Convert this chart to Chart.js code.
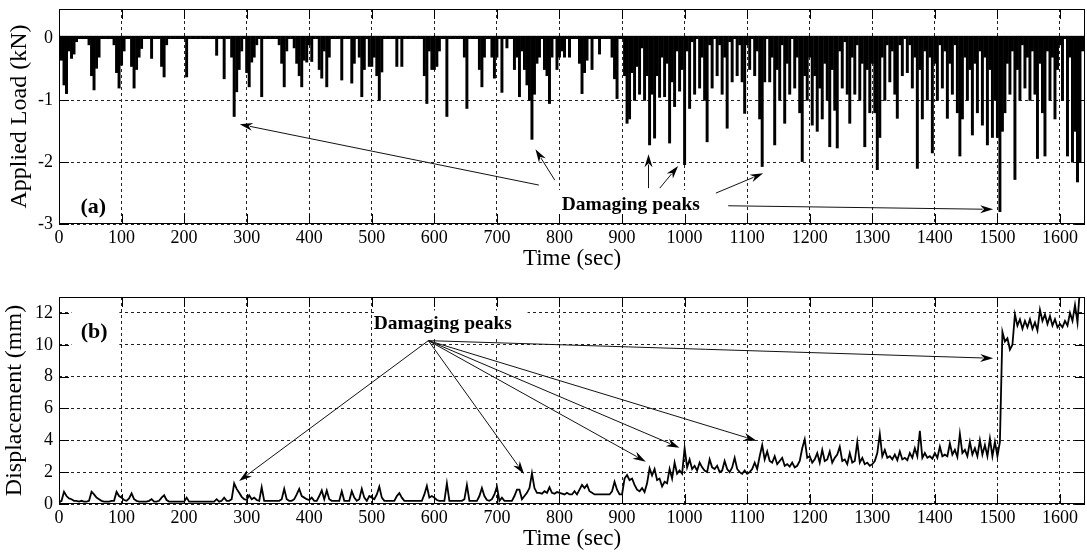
<!DOCTYPE html>
<html lang="en">
<head>
<meta charset="UTF-8">
<title>Applied load and displacement vs time</title>
<script src="https://cdn.jsdelivr.net/npm/chart.js"></script>
<style>
  html, body { margin: 0; padding: 0; background: #fff; }
  #wrap { width: 1087px; height: 552px; overflow: hidden; }
  canvas { display: block; }
</style>
</head>
<body>
<div id="wrap">
  <canvas id="loadChart" width="1087" height="272"></canvas>
  <canvas id="dispChart" width="1087" height="280"></canvas>
</div>
<script>
// samples every 4 s (0 .. 1640 s)
const SAMPLE_STEP = 4;

// applied load (kN), deepest value in each 4 s slot
const loadKN = [
  0, -0.35, -0.75, -0.89, -0.2, -0.32, -0.25, -0.05, 0, 0, 0, 0, -0.1, -0.6, -0.83, -0.48, -0.3, 0, 0, 0, 0, 0, -0.1, -0.55, -0.8,
  -0.43, -0.2, 0, 0, -0.45, -0.8, -0.5, -0.3, -0.16, 0, 0, 0, -0.32, 0, 0, 0, -0.45, -0.62, -0.1, 0, 0, 0, 0, 0, 0,
  0, -0.62, 0, 0, 0, 0, 0, 0, 0, 0, 0, 0, 0, -0.27, 0, 0, -0.65, 0, 0, -0.3, -1.26, -0.86, -0.5, -0.2, 0,
  -0.55, -0.78, -0.38, -0.3, -0.1, 0, -0.94, 0, 0, 0, 0, 0, 0, -0.1, -0.4, -0.78, -0.2, 0, 0, -0.15, -0.4, -0.6, -0.78, -0.35, -0.38,
  -0.1, -0.37, 0, 0, -0.5, -0.64, -0.2, -0.78, -0.3, 0, 0, 0, 0, -0.67, 0, 0, 0, -0.72, -0.4, 0, -0.3, -0.94, -0.5, 0, -0.45,
  -0.45, -0.3, -0.6, -1.0, -0.54, 0, 0, 0, 0, 0, -0.45, 0, -0.45, 0, 0, 0, 0, 0, 0, 0, 0, -0.6, -1.05, -0.2, -0.5,
  -0.5, -0.45, -0.2, 0, 0, -1.26, 0, 0, 0, 0, 0, 0, -0.3, -1.13, 0, 0, 0, 0, -0.5, -0.78, -0.3, 0, 0, -0.3, -0.64,
  -0.3, 0, -0.87, 0, -0.15, 0, 0, -0.5, -0.3, -0.94, -0.2, -0.5, -0.75, -1.0, -1.63, -0.9, -0.4, -0.3, 0, -0.5, -0.6, -1.05, -0.3, 0, -0.5,
  -0.3, -0.2, -0.3, 0, -0.3, 0, 0, 0, -0.4, -0.89, -0.55, -0.35, 0, -0.5, 0, 0, -0.25, 0, 0, 0, 0, -0.3, -0.65, -0.97, 0,
  0, -0.6, -1.37, -1.3, -0.55, -1.0, -0.45, -0.9, -0.15, -1.0, -0.6, -1.72, -0.9, -1.61, -0.6, -0.95, -0.3, -0.94, -0.4, -1.69, -0.7, -1.1, -0.2, -0.85, -0.5,
  -2.04, -0.2, -1.13, -0.05, -0.9, 0, -0.8, -0.3, -1.0, -1.67, -0.1, -0.8, 0, -0.6, -0.1, -0.9, -0.3, -1.45, -0.05, -0.7, 0, -0.6, -0.1, -0.7, -1.21,
  -0.1, -0.5, 0, -0.6, -0.2, -1.3, -2.07, -0.7, 0, -0.7, -0.3, -1.72, -0.5, -1.0, -0.1, -1.37, -0.4, -0.9, 0, -0.8, -0.3, -1.2, -1.99, -0.6, -1.0,
  -0.3, -1.4, -0.6, -1.5, -0.8, -1.3, -0.4, -1.0, -1.75, -0.5, -1.16, -1.77, -0.2, -0.8, -0.05, -0.9, -1.37, -0.3, -0.9, -0.1, -1.0, -0.4, -1.75, -0.5, -1.2,
  -0.4, -1.2, -2.12, -1.6, -0.3, -1.0, -0.1, -0.7, -0.2, -0.9, -1.29, -0.1, -0.6, 0, -0.55, -0.1, -0.8, -0.3, -2.1, -0.5, -1.3, -0.2, -1.0, -0.3, -1.85,
  -0.4, -1.0, -0.1, -0.8, -0.2, -1.29, -0.4, -0.9, -0.1, -1.2, -1.9, -1.3, -0.3, -1.0, -0.5, -1.56, -0.4, -1.2, -0.2, -1.4, -0.3, -1.72, -0.5, -1.6, -1.0,
  -1.6, -2.8, -1.5, -1.2, -0.4, -0.9, -0.2, -2.28, -0.5, -1.0, -0.1, -0.8, -0.3, -1.0, -0.2, -0.9, -1.94, -0.4, -1.2, -1.9, -0.2, -1.0, -0.3, -1.3, -0.5,
  -0.1, -1.0, 0, -1.9, -0.3, -2.0, -1.5, -2.32, -2.0, -0.2, 0
];

// displacement (mm)
const dispMM = [
  0.1, 0.2, 0.77, 0.5, 0.35, 0.3, 0.2, 0.2, 0.15, 0.2, 0.15, 0.15, 0.2, 0.77, 0.6, 0.4, 0.3, 0.2, 0.15, 0.15, 0.15, 0.2, 0.2, 0.77, 0.5,
  0.4, 0.25, 0.2, 0.35, 0.67, 0.3, 0.2, 0.15, 0.15, 0.15, 0.15, 0.2, 0.3, 0.15, 0.15, 0.2, 0.4, 0.55, 0.25, 0.15, 0.15, 0.15, 0.15, 0.15, 0.15,
  0.15, 0.4, 0.15, 0.15, 0.15, 0.15, 0.15, 0.15, 0.15, 0.15, 0.15, 0.15, 0.15, 0.3, 0.15, 0.2, 0.4, 0.2, 0.2, 0.3, 1.3, 0.95, 0.7, 0.45, 0.3,
  0.25, 0.55, 0.3, 0.4, 0.25, 0.2, 1.05, 0.2, 0.2, 0.2, 0.2, 0.2, 0.2, 0.2, 0.3, 0.95, 0.3, 0.2, 0.2, 0.3, 0.6, 0.95, 0.5, 0.4, 0.3,
  0.25, 0.4, 0.2, 0.2, 0.5, 0.85, 0.3, 0.85, 0.3, 0.2, 0.2, 0.2, 0.2, 0.8, 0.2, 0.2, 0.2, 0.8, 0.4, 0.2, 0.3, 0.95, 0.4, 0.2, 0.5,
  0.4, 0.3, 0.6, 1.09, 0.4, 0.2, 0.2, 0.2, 0.2, 0.2, 0.5, 0.68, 0.4, 0.2, 0.2, 0.2, 0.2, 0.2, 0.2, 0.2, 0.2, 0.6, 1.13, 0.4, 0.5,
  0.4, 0.25, 0.2, 0.2, 0.2, 1.3, 0.2, 0.2, 0.2, 0.2, 0.2, 0.2, 0.3, 1.2, 0.2, 0.2, 0.2, 0.2, 0.5, 1.0, 0.5, 0.25, 0.2, 0.3, 0.6,
  1.09, 0.2, 0.4, 0.2, 0.2, 0.2, 0.2, 0.5, 0.9, 0.9, 0.3, 0.5, 0.7, 1.0, 1.93, 1.0, 0.7, 0.7, 0.65, 0.8, 0.7, 1.05, 0.7, 0.65, 0.75,
  0.7, 0.65, 0.6, 0.7, 0.6, 0.6, 0.8, 0.6, 0.9, 1.2, 1.0, 1.2, 0.8, 0.7, 0.6, 0.6, 0.6, 0.6, 0.6, 0.6, 0.6, 0.8, 1.4, 0.9, 0.6,
  0.6, 1.6, 1.82, 1.5, 1.6, 1.2, 0.9, 0.8, 1.0, 0.75, 1.3, 2.24, 1.8, 2.2, 1.5, 1.6, 1.1, 1.4, 1.3, 2.2, 1.6, 2.6, 1.9, 2.1, 1.9,
  3.5, 2.3, 2.8, 2.2, 2.4, 2.1, 2.6, 2.3, 2.1, 2.0, 2.8, 2.3, 2.2, 2.4, 2.0, 2.1, 2.7, 2.2, 2.0, 2.3, 2.9, 2.2, 2.0, 1.9, 2.1,
  1.9, 2.0, 2.2, 2.6, 2.2, 3.0, 3.7, 2.8, 3.3, 2.7, 2.6, 3.0, 2.5, 2.7, 2.9, 2.4, 2.5, 2.35, 2.6, 2.3, 2.4, 2.7, 3.5, 4.06, 2.9,
  3.0, 2.6, 2.8, 3.2, 2.6, 3.4, 2.7, 2.8, 3.3, 2.6, 2.9, 3.1, 3.6, 2.7, 2.8, 2.5, 3.2, 2.6, 2.7, 3.9, 2.6, 2.9, 2.5, 2.6, 2.4,
  2.5, 2.7, 3.2, 4.4, 3.0, 3.4, 2.9, 3.0, 2.8, 3.1, 2.75, 3.3, 2.8, 2.9, 2.75, 3.2, 2.9, 3.5, 3.0, 4.6, 2.9, 3.2, 2.9, 3.0, 2.85,
  3.2, 2.9, 3.6, 3.0, 3.1, 3.0, 3.8, 3.1, 3.4, 2.95, 4.4, 3.2, 3.4, 3.0, 3.9, 3.1, 3.5, 3.0, 4.0, 3.1, 3.7, 3.0, 4.1, 3.0, 3.9,
  3.0, 3.9, 10.8, 10.2, 10.4, 9.7, 10.0, 11.9, 11.2, 11.6, 11.0, 11.5, 11.1, 11.6, 11.0, 11.4, 10.9, 12.2, 11.5, 11.9, 11.3, 11.8, 11.2, 11.6, 11.1,
  11.3, 11.1, 11.5, 11.2, 12.0, 11.5, 12.5, 11.4, 13.6, 13.8, 13.8
];

const timeSec = loadKN.map((_, i) => i * SAMPLE_STEP);

const xTicks = [0, 100, 200, 300, 400, 500, 600, 700, 800, 900, 1000, 1100, 1200, 1300, 1400, 1500, 1600];
const loadTicks = [-3, -2, -1, 0];
const dispTicks = [0, 2, 4, 6, 8, 10, 12];

const FONT = "'Liberation Serif', 'Times New Roman', serif";

function drawArrow(ctx, x0, y0, x1, y1) {
  const ang = Math.atan2(y1 - y0, x1 - x0);
  const len = 13, half = 4;
  ctx.beginPath();
  ctx.moveTo(x0, y0);
  ctx.lineTo(x1 - Math.cos(ang) * len * 0.8, y1 - Math.sin(ang) * len * 0.8);
  ctx.stroke();
  ctx.save();
  ctx.translate(x1, y1);
  ctx.rotate(ang);
  ctx.beginPath();
  ctx.moveTo(0, 0);
  ctx.lineTo(-len, -half);
  ctx.lineTo(-len * 0.7, 0);
  ctx.lineTo(-len, half);
  ctx.closePath();
  ctx.fill();
  ctx.restore();
}

// labels, arrows, inner tick marks and the box frame (matlab look)
const decorPlugin = {
  id: 'decor',
  afterDatasetsDraw(chart, args, opts) {
    const { ctx, chartArea: a } = chart;
    const xs = chart.scales.x, ys = chart.scales.y;
    const px = (t, v) => [xs.getPixelForValue(t), ys.getPixelForValue(v)];
    ctx.save();

    ctx.fillStyle = '#fff';
    (opts.boxes || []).forEach(b => {
      const [x0, y0] = px(b[0], b[1]);
      const [x1, y1] = px(b[2], b[3]);
      ctx.fillRect(Math.min(x0, x1), Math.min(y0, y1), Math.abs(x1 - x0), Math.abs(y1 - y0));
    });

    ctx.fillStyle = '#000';
    ctx.textAlign = 'center';
    ctx.textBaseline = 'alphabetic';
    (opts.texts || []).forEach(n => {
      ctx.font = 'bold ' + n.size + 'px ' + FONT;
      const [x, y] = px(n.t, n.v);
      ctx.fillText(n.text, x, y);
    });

    ctx.strokeStyle = '#111';
    ctx.lineWidth = 1;
    (opts.arrows || []).forEach(r => {
      const [x0, y0] = px(r[0], r[1]);
      const [x1, y1] = px(r[2], r[3]);
      drawArrow(ctx, x0, y0, x1, y1);
    });

    ctx.strokeStyle = '#000';
    ctx.beginPath();
    xs.ticks.forEach(tk => {
      const x = Math.round(xs.getPixelForValue(tk.value)) + 0.5;
      ctx.moveTo(x, a.top); ctx.lineTo(x, a.top + 10);
      ctx.moveTo(x, a.bottom); ctx.lineTo(x, a.bottom - 10);
    });
    ys.ticks.forEach(tk => {
      const y = Math.round(ys.getPixelForValue(tk.value)) + 0.5;
      ctx.moveTo(a.left, y); ctx.lineTo(a.left + 10, y);
      ctx.moveTo(a.right, y); ctx.lineTo(a.right - 10, y);
    });
    ctx.stroke();
    ctx.strokeRect(a.left + 0.5, a.top + 0.5, a.width - 1, a.height - 1);
    ctx.restore();
  }
};

function makeChart(id, cfg) {
  const points = timeSec.map((t, i) => ({ x: t, y: cfg.values[i] }));
  // the load is drawn as thin spikes hanging from a line just above zero
  const dataset = cfg.type === 'bar'
    ? { data: points, backgroundColor: '#000', borderWidth: 0, barThickness: 2.3, base: 0.04, grouped: false }
    : { data: points, borderColor: '#000', borderWidth: 1.8, pointRadius: 0, tension: 0, fill: false };
  return new Chart(document.getElementById(id), {
    type: cfg.type,
    data: { datasets: [dataset] },
    options: {
      responsive: false,
      animation: false,
      devicePixelRatio: 1,
      layout: { padding: { top: cfg.padTop, right: 2, bottom: 0, left: 0 } },
      plugins: {
        legend: { display: false },
        tooltip: { enabled: false },
        decor: cfg.decor
      },
      scales: {
        x: {
          type: 'linear',
          min: 0,
          max: 1640,
          offset: false,
          afterBuildTicks: s => { s.ticks = xTicks.map(v => ({ value: v })); },
          afterFit: s => { s.height = 48; s.paddingLeft = 0; s.paddingRight = 0; },
          grid: { color: '#222', lineWidth: 1, drawTicks: false, offset: false },
          border: { display: false, dash: [3, 3] },
          ticks: {
            color: '#000', font: { family: FONT, size: 18 }, padding: 3,
            maxRotation: 0, autoSkip: false, callback: v => String(v)
          },
          title: {
            display: true, text: 'Time (sec)', color: '#000',
            font: { family: FONT, size: 23, lineHeight: 1.1 }, padding: { top: 0, bottom: 0 }
          }
        },
        y: {
          type: 'linear',
          min: cfg.yMin,
          max: cfg.yMax,
          afterBuildTicks: s => { s.ticks = cfg.yTicks.map(v => ({ value: v })); },
          afterFit: s => { s.width = 59; s.paddingTop = 0; s.paddingBottom = 0; },
          grid: { color: '#222', lineWidth: 1, drawTicks: false },
          border: { display: false, dash: [3, 3] },
          ticks: { color: '#000', font: { family: FONT, size: 18 }, padding: 6, callback: v => String(v) },
          title: {
            display: true, text: cfg.yTitle, color: '#000',
            font: { family: FONT, size: 24, lineHeight: 1.1 }, padding: { top: cfg.yTitlePad, bottom: 0 }
          }
        }
      }
    },
    plugins: [decorPlugin]
  });
}

makeChart('loadChart', {
  type: 'bar',
  values: loadKN,
  yMin: -3, yMax: 0.48, yTicks: loadTicks,
  yTitle: 'Applied Load (kN)', yTitlePad: 7, padTop: 9,
  decor: {
    boxes: [[20, -2.42, 96, -2.97], [794, -2.45, 1032, -2.99]],
    texts: [
      { text: '(a)', t: 54.7, v: -2.816, size: 22 },
      { text: 'Damaging peaks', t: 914, v: -2.774, size: 19.5 }
    ],
    arrows: [
      [767, -2.37, 288.9, -1.386],
      [792.5, -2.29, 761.6, -1.79],
      [942.3, -2.42, 942.3, -1.87],
      [960.3, -2.42, 989.6, -2.06],
      [1050, -2.5, 1125.5, -2.18],
      [1069.6, -2.705, 1493.2, -2.763]
    ]
  }
});

makeChart('dispChart', {
  type: 'line',
  values: dispMM,
  yMin: 0, yMax: 13, yTicks: dispTicks,
  yTitle: 'Displacement (mm)', yTitlePad: 2, padTop: 25,
  decor: {
    boxes: [[20, 9.75, 96.5, 12.6], [505, 10.45, 749, 12.15]],
    texts: [
      { text: '(b)', t: 56.3, v: 10.45, size: 22 },
      { text: 'Damaging peaks', t: 613.5, v: 10.99, size: 19.5 }
    ],
    arrows: [
      [590.4, 10.26, 287.8, 1.445],
      [590.4, 10.26, 743.4, 1.884],
      [590.4, 10.26, 938, 2.66],
      [590.4, 10.26, 991.7, 3.54],
      [590.4, 10.26, 1115, 3.98],
      [590.4, 10.26, 1493.2, 9.15]
    ]
  }
});
</script>
</body>
</html>
